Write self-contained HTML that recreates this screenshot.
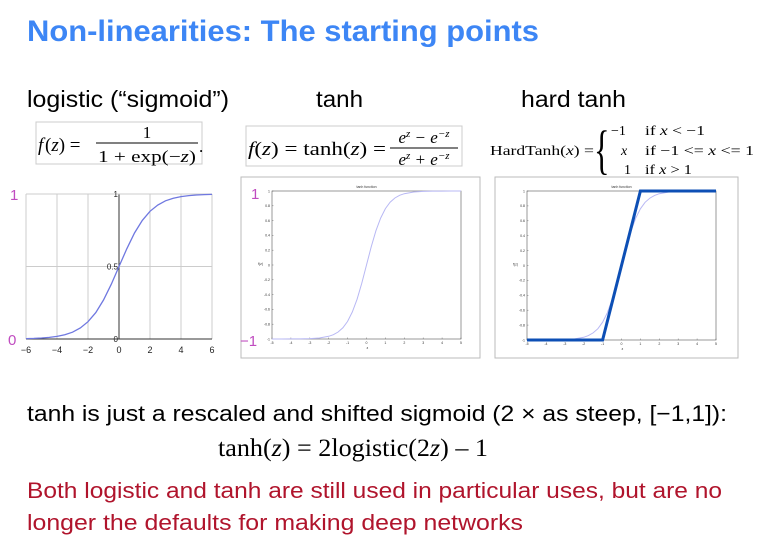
<!DOCTYPE html>
<html><head><meta charset="utf-8"><style>
html,body{margin:0;padding:0;background:#fff;}
svg{display:block;}
</style></head><body>
<svg id="slide" width="775" height="547" viewBox="0 0 775 547" xmlns="http://www.w3.org/2000/svg">
<rect width="775" height="547" fill="#fff"/>
<text x="27" y="41" font-family="Liberation Sans, sans-serif" font-weight="bold" font-size="30" fill="#3d86f5" textLength="512" lengthAdjust="spacingAndGlyphs">Non-linearities: The starting points</text>
<text x="27" y="107" font-family="Liberation Sans, sans-serif" font-size="23" fill="#000" textLength="202" lengthAdjust="spacingAndGlyphs">logistic (“sigmoid”)</text>
<text x="316" y="107" font-family="Liberation Sans, sans-serif" font-size="23" fill="#000" textLength="47" lengthAdjust="spacingAndGlyphs">tanh</text>
<text x="521" y="107" font-family="Liberation Sans, sans-serif" font-size="23" fill="#000" textLength="105" lengthAdjust="spacingAndGlyphs">hard tanh</text>

<g font-family="Liberation Serif, serif" fill="#000">
<rect x="36" y="122" width="166" height="42" fill="#fff" stroke="#ccc"/>
<text x="38" y="151" font-size="19" font-style="italic">f</text><text x="45" y="151" font-size="19">(<tspan font-style="italic">z</tspan>) =</text>
<text x="147" y="138" font-size="17" text-anchor="middle">1</text>
<line x1="96" y1="143" x2="198" y2="143" stroke="#000" stroke-width="1"/>
<text x="147" y="162" font-size="17" text-anchor="middle" textLength="98" lengthAdjust="spacingAndGlyphs">1 + exp(−<tspan font-style="italic">z</tspan>)</text>
<text x="199" y="152" font-size="17">.</text>
</g>
<g font-family="Liberation Serif, serif" fill="#000">
<rect x="246" y="126" width="216" height="40" fill="#fff" stroke="#ccc"/>
<text x="248" y="155" font-size="19" textLength="138" lengthAdjust="spacingAndGlyphs"><tspan font-style="italic">f</tspan>(<tspan font-style="italic">z</tspan>) = tanh(<tspan font-style="italic">z</tspan>) =</text>
<text x="424" y="143" font-size="17" text-anchor="middle" font-style="italic">e<tspan font-size="11" dy="-6">z</tspan><tspan dy="6"> − e</tspan><tspan font-size="11" dy="-6">−z</tspan></text>
<line x1="390" y1="148" x2="458" y2="148" stroke="#000"/>
<text x="424" y="165" font-size="17" text-anchor="middle" font-style="italic">e<tspan font-size="11" dy="-6">z</tspan><tspan dy="6"> + e</tspan><tspan font-size="11" dy="-6">−z</tspan></text>
</g>
<g font-family="Liberation Serif, serif" fill="#000" font-size="14">
<text x="490" y="155" textLength="104" lengthAdjust="spacingAndGlyphs">HardTanh(<tspan font-style="italic">x</tspan>) =</text>
<text x="594" y="168" font-size="54" transform="translate(594 150) scale(0.6,1) translate(-594 -150)">{</text>
<text x="611" y="135">−1</text><text x="645" y="135" textLength="60" lengthAdjust="spacingAndGlyphs">if <tspan font-style="italic">x</tspan> &lt; −1</text>
<text x="621" y="155" font-style="italic">x</text><text x="645" y="155" textLength="109" lengthAdjust="spacingAndGlyphs">if −1 &lt;= <tspan font-style="italic">x</tspan> &lt;= 1</text>
<text x="624" y="174">1</text><text x="645" y="174" textLength="47" lengthAdjust="spacingAndGlyphs">if <tspan font-style="italic">x</tspan> &gt; 1</text>
</g>

<g id="c1"></g>
<g id="c2"></g>
<g id="c3"></g>

<text x="27" y="421" font-family="Liberation Sans, sans-serif" font-size="22" fill="#000" textLength="700" lengthAdjust="spacingAndGlyphs">tanh is just a rescaled and shifted sigmoid (2 × as steep, [−1,1]):</text>
<text x="218" y="456" font-family="Liberation Serif, serif" font-size="25" fill="#000" textLength="270" lengthAdjust="spacingAndGlyphs">tanh(<tspan font-style="italic">z</tspan>) = 2logistic(2<tspan font-style="italic">z</tspan>) – 1</text>
<text x="27" y="498" font-family="Liberation Sans, sans-serif" font-size="22" fill="#b0142c" textLength="695" lengthAdjust="spacingAndGlyphs">Both logistic and tanh are still used in particular uses, but are no</text>
<text x="27" y="530" font-family="Liberation Sans, sans-serif" font-size="22" fill="#b0142c" textLength="496" lengthAdjust="spacingAndGlyphs">longer the defaults for making deep networks</text>
</svg>
<script>
const NS='http://www.w3.org/2000/svg';
// logistic data
const sigZ=[-6,-5.5,-5,-4.5,-4,-3.5,-3,-2.5,-2,-1.5,-1,-0.5,0,0.5,1,1.5,2,2.5,3,3.5,4,4.5,5,5.5,6];
const sigY=[0.0025,0.0041,0.0067,0.011,0.018,0.029,0.047,0.076,0.119,0.182,0.269,0.378,0.5,0.622,0.731,0.818,0.881,0.924,0.953,0.971,0.982,0.989,0.9933,0.9959,0.9975];
const sigXTicks=[-6,-4,-2,0,2,4,6];
// tanh data
const tanhX=[-5,-4.5,-4,-3.5,-3,-2.5,-2,-1.75,-1.5,-1.25,-1,-0.75,-0.5,-0.25,0,0.25,0.5,0.75,1,1.25,1.5,1.75,2,2.5,3,3.5,4,4.5,5];
const tanhY=[-0.9999,-0.9998,-0.9993,-0.9982,-0.9951,-0.9866,-0.964,-0.9414,-0.9051,-0.8483,-0.7616,-0.6351,-0.4621,-0.2449,0,0.2449,0.4621,0.6351,0.7616,0.8483,0.9051,0.9414,0.964,0.9866,0.9951,0.9982,0.9993,0.9998,0.9999];
// hard tanh data
const hardX=[-5,-1,1,5];
const hardY=[-1,-1,1,1];
const smallXTicks=[-5,-4,-3,-2,-1,0,1,2,3,4,5];
const smallYTicks=[-1,-0.8,-0.6,-0.4,-0.2,0,0.2,0.4,0.6,0.8,1];

function el(parent,tag,attrs,text){const e=document.createElementNS(NS,tag);for(const k in attrs)e.setAttribute(k,attrs[k]);if(text!=null)e.textContent=text;parent.appendChild(e);return e;}
function scale(d0,d1,r0,r1){return v=>r0+(v-d0)/(d1-d0)*(r1-r0);}
function pts(xs,ys,sx,sy){return xs.map((x,i)=>sx(x).toFixed(1)+','+sy(ys[i]).toFixed(1)).join(' ');}

// chart 1
(function(){
const g=document.getElementById('c1');
const sx=scale(-6,6,26,212), sy=scale(0,1,339,194);
sigXTicks.forEach(t=>{
 const l=el(g,'line',{x1:sx(t),x2:sx(t),y1:sy(0),y2:sy(1),stroke:t===0?'#333':'#ccc','stroke-width':1});
 
 
 const tx=el(g,'text',{x:sx(t),y:353,'font-size':9,'text-anchor':'middle','font-family':'Liberation Sans, sans-serif',fill:'#222'},t<0?'−'+Math.abs(t):String(t));
 
 
});
[0.5,1].forEach(v=>{const l=el(g,'line',{x1:sx(-6),x2:sx(6),y1:sy(v),y2:sy(v),stroke:'#ccc'});
 
 });
const ax=el(g,'line',{x1:sx(-6),x2:sx(6),y1:sy(0),y2:sy(0),stroke:'#333'});


[[1,'1'],[0.5,'0.5'],[0,'0']].forEach(([v,s])=>{const t=el(g,'text',{x:sx(0)-1,y:sy(v)+3,'font-size':8,'text-anchor':'end','font-family':'Liberation Sans, sans-serif',fill:'#222'},s);
 
 });
const p=el(g,'polyline',{points:pts(sigZ,sigY,sx,sy),fill:'none',stroke:'#6f78e0','stroke-width':1.3});


const a=el(g,'text',{x:10,y:200,'font-size':15,fill:'#c04cc0','font-family':'Liberation Sans, sans-serif'},'1');


const b=el(g,'text',{x:8,y:345,'font-size':15,fill:'#c04cc0','font-family':'Liberation Sans, sans-serif'},'0');


})();

function smallChart(id,box,plot,drawHard){
const g=document.getElementById(id);
const fr=el(g,'rect',{x:box[0],y:box[1],width:box[2]-box[0],height:box[3]-box[1],fill:'#fff',stroke:'#bbb'});


const sx=scale(-5,5,plot[0],plot[2]), sy=scale(-1,1,plot[3],plot[1]);
const pr=el(g,'rect',{x:plot[0],y:plot[1],width:plot[2]-plot[0],height:plot[3]-plot[1],fill:'none',stroke:'#555','stroke-width':0.6});


const tt=el(g,'text',{x:(plot[0]+plot[2])/2,y:plot[1]-3,'font-size':3.5,'text-anchor':'middle','font-family':'Liberation Sans, sans-serif',fill:'#333'},'tanh function');


smallXTicks.forEach(t=>{const tx=el(g,'text',{x:sx(t),y:plot[3]+5,'font-size':3.5,'text-anchor':'middle','font-family':'Liberation Sans, sans-serif',fill:'#333'},String(t));
 
 
 el(g,'line',{x1:sx(t),x2:sx(t),y1:plot[3],y2:plot[3]-1.5,stroke:'#555','stroke-width':0.4});});
smallYTicks.forEach(t=>{const tx=el(g,'text',{x:plot[0]-2,y:sy(t)+1.3,'font-size':3.5,'text-anchor':'end','font-family':'Liberation Sans, sans-serif',fill:'#333'},String(t));
 
 
 el(g,'line',{x1:plot[0],x2:plot[0]+1.5,y1:sy(t),y2:sy(t),stroke:'#555','stroke-width':0.4});});
const yl=el(g,'text',{x:plot[0]-14,y:(plot[1]+plot[3])/2,'font-size':3.5,'font-family':'Liberation Sans, sans-serif',fill:'#333'},'f(z)');


const xl=el(g,'text',{x:(plot[0]+plot[2])/2,y:plot[3]+10,'font-size':3.5,'font-family':'Liberation Sans, sans-serif',fill:'#333'},'z');


const c=el(g,'polyline',{points:pts(tanhX,tanhY,sx,sy),fill:'none',stroke:'#b8b8f4','stroke-width':1});


if(drawHard){
 const h=el(g,'polyline',{points:pts(hardX,hardY,sx,sy),fill:'none',stroke:'#0d4fb5','stroke-width':3});
 
 
}
return g;
}
const g2=smallChart('c2',[241,177,480,358],[272,191,461,339],false);
const a1=el(g2,'text',{x:251,y:199,'font-size':15,fill:'#c04cc0','font-family':'Liberation Sans, sans-serif'},'1');


const a2=el(g2,'text',{x:240,y:346,'font-size':15,fill:'#c04cc0','font-family':'Liberation Sans, sans-serif'},'−1');


smallChart('c3',[495,177,738,358],[527,191,716,340],true);
</script>
</body></html>
